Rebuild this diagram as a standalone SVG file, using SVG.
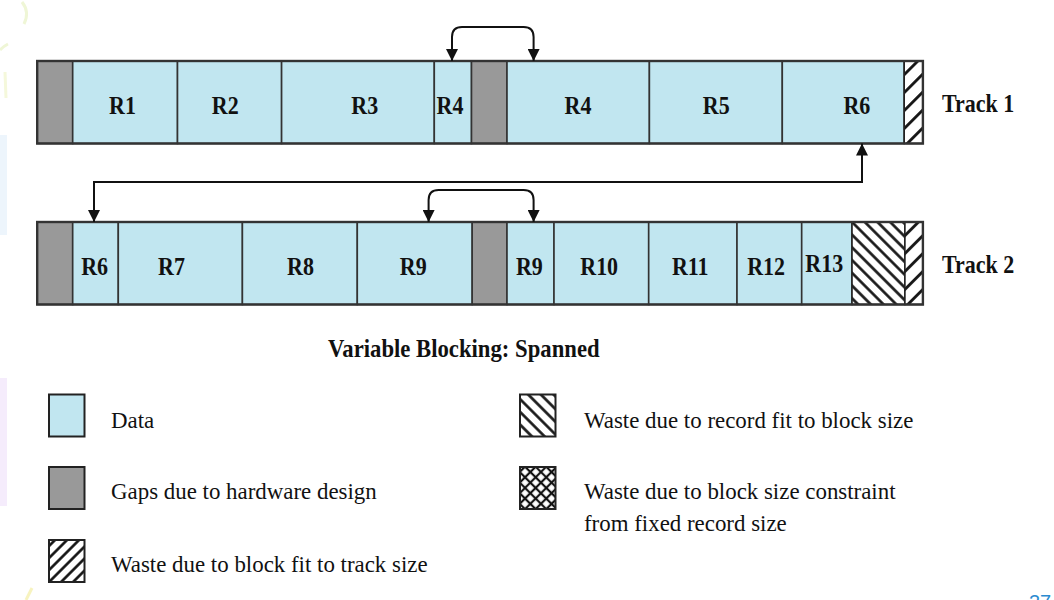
<svg xmlns="http://www.w3.org/2000/svg" width="1054" height="600" viewBox="0 0 1054 600">
<style>
.data{fill:#c1e6f0;stroke:#333;stroke-width:1.6}
.gap{fill:#999;stroke:#333;stroke-width:1.6}
.hfwd{fill:url(#pFwdT);stroke:#222;stroke-width:1.6}
.hback{fill:url(#pBack);stroke:#222;stroke-width:1.6}
.outer{fill:none;stroke:#333;stroke-width:2.4}
.lbl{font-family:"Liberation Serif","Times New Roman",serif;font-weight:bold;font-size:22px;text-anchor:middle;fill:#111}
.trk{font-family:"Liberation Serif","Times New Roman",serif;font-weight:bold;font-size:22px;fill:#111}
.ttl{font-family:"Liberation Serif","Times New Roman",serif;font-weight:bold;font-size:22.7px;fill:#111}
.leg{font-family:"Liberation Serif","Times New Roman",serif;font-size:22.9px;fill:#111}
.lbox{stroke:#222;stroke-width:2}
.conn{fill:none;stroke:#111;stroke-width:2}
</style>
<defs>
<pattern id="pFwdT" patternUnits="userSpaceOnUse" width="12.7" height="12.7" patternTransform="rotate(45)">
<rect width="12.7" height="12.7" fill="#fff"/><line x1="6.35" y1="0" x2="6.35" y2="12.7" stroke="#111" stroke-width="2.8"/></pattern>
<pattern id="pFwdL" patternUnits="userSpaceOnUse" width="8.5" height="8.5" patternTransform="rotate(45)">
<rect width="8.5" height="8.5" fill="#fff"/><line x1="4.25" y1="0" x2="4.25" y2="8.5" stroke="#111" stroke-width="2.6"/></pattern>
<pattern id="pBack" patternUnits="userSpaceOnUse" width="9" height="9" patternTransform="rotate(-45)">
<rect width="9" height="9" fill="#fff"/><line x1="4.5" y1="0" x2="4.5" y2="9" stroke="#111" stroke-width="2.6"/></pattern>
<pattern id="pCross" patternUnits="userSpaceOnUse" width="7.5" height="7.5" patternTransform="rotate(45)">
<rect width="7.5" height="7.5" fill="#fff"/><line x1="3.75" y1="0" x2="3.75" y2="7.5" stroke="#111" stroke-width="2.2"/><line x1="0" y1="3.75" x2="7.5" y2="3.75" stroke="#111" stroke-width="2.2"/></pattern>
<marker id="ah" viewBox="0 0 12 12" refX="12" refY="6" markerWidth="12" markerHeight="12" markerUnits="userSpaceOnUse" orient="auto-start-reverse"><path d="M0,0 L12,6 L0,12 z" fill="#111"/></marker>
</defs>
<rect width="1054" height="600" fill="#fff"/>
<g id="background" opacity="0.9">
<path d="M22,2 Q30,12 24,24" fill="none" stroke="#eef6d2" stroke-width="3"/>
<path d="M0,50 Q4,46 8,44" fill="none" stroke="#eef6d2" stroke-width="3"/>
<path d="M5,72 L6,98" fill="none" stroke="#f4f8d8" stroke-width="3"/>
<rect x="0" y="135" width="7" height="100" fill="#ecf5fc"/>
<rect x="0" y="378" width="7" height="128" fill="#f4eafc"/>
<path d="M26,600 L32,588" fill="none" stroke="#f6f2b8" stroke-width="3"/>
</g>
<g id="track1">
<rect class="gap" x="37.2" y="61" width="35.5" height="82.5"/>
<g id="t1-r1"><rect class="data" x="72.7" y="61" width="104.8" height="82.5"/><text class="lbl" x="122.5" y="114" transform="matrix(1 0 0 1.1 0 -11.4)">R1</text></g>
<g id="t1-r2"><rect class="data" x="177.5" y="61" width="104.1" height="82.5"/><text class="lbl" x="225.3" y="114" transform="matrix(1 0 0 1.1 0 -11.4)">R2</text></g>
<g id="t1-r3"><rect class="data" x="281.6" y="61" width="152.7" height="82.5"/><text class="lbl" x="364.7" y="114" transform="matrix(1 0 0 1.1 0 -11.4)">R3</text></g>
<g id="t1-r4a"><rect class="data" x="434.3" y="61" width="37.2" height="82.5"/><text class="lbl" x="450" y="114" transform="matrix(1 0 0 1.1 0 -11.4)">R4</text></g>
<rect class="gap" x="471.5" y="61" width="35.5" height="82.5"/>
<g id="t1-r4b"><rect class="data" x="507" y="61" width="142.4" height="82.5"/><text class="lbl" x="578" y="114" transform="matrix(1 0 0 1.1 0 -11.4)">R4</text></g>
<g id="t1-r5"><rect class="data" x="649.4" y="61" width="132.9" height="82.5"/><text class="lbl" x="716.3" y="114" transform="matrix(1 0 0 1.1 0 -11.4)">R5</text></g>
<g id="t1-r6"><rect class="data" x="782.3" y="61" width="121.9" height="82.5"/><text class="lbl" x="856.9" y="114" transform="matrix(1 0 0 1.1 0 -11.4)">R6</text></g>
<rect class="hfwd" x="904.2" y="61" width="18.7" height="82.5"/>
<rect class="outer" x="37.2" y="61" width="885.7" height="82.5"/>
<text class="trk" x="942" y="112" transform="matrix(1 0 0 1.1 0 -11.2)">Track 1</text>
</g>
<g id="track2">
<rect class="gap" x="37.2" y="222" width="35.5" height="82.5"/>
<g id="t2-r6"><rect class="data" x="72.7" y="222" width="45.6" height="82.5"/><text class="lbl" x="94.6" y="275" transform="matrix(1 0 0 1.1 0 -27.5)">R6</text></g>
<g id="t2-r7"><rect class="data" x="118.3" y="222" width="124.1" height="82.5"/><text class="lbl" x="171.5" y="275" transform="matrix(1 0 0 1.1 0 -27.5)">R7</text></g>
<g id="t2-r8"><rect class="data" x="242.4" y="222" width="114.9" height="82.5"/><text class="lbl" x="300.5" y="275" transform="matrix(1 0 0 1.1 0 -27.5)">R8</text></g>
<g id="t2-r9a"><rect class="data" x="357.3" y="222" width="114.9" height="82.5"/><text class="lbl" x="413.2" y="275" transform="matrix(1 0 0 1.1 0 -27.5)">R9</text></g>
<rect class="gap" x="472.2" y="222" width="34.8" height="82.5"/>
<g id="t2-r9b"><rect class="data" x="507" y="222" width="47" height="82.5"/><text class="lbl" x="529.4" y="275" transform="matrix(1 0 0 1.1 0 -27.5)">R9</text></g>
<g id="t2-r10"><rect class="data" x="554" y="222" width="94.7" height="82.5"/><text class="lbl" x="599.2" y="275" transform="matrix(1 0 0 1.1 0 -27.5)">R10</text></g>
<g id="t2-r11"><rect class="data" x="648.7" y="222" width="88.3" height="82.5"/><text class="lbl" x="690.3" y="275" transform="matrix(1 0 0 1.1 0 -27.5)">R11</text></g>
<g id="t2-r12"><rect class="data" x="737" y="222" width="64.7" height="82.5"/><text class="lbl" x="766.2" y="275" transform="matrix(1 0 0 1.1 0 -27.5)">R12</text></g>
<g id="t2-r13"><rect class="data" x="801.7" y="222" width="50.3" height="82.5"/><text class="lbl" x="824.2" y="272" transform="matrix(1 0 0 1.1 0 -27.2)">R13</text></g>
<rect class="hback" x="852" y="222" width="52.9" height="82.5"/>
<rect class="hfwd" x="904.9" y="222" width="18" height="82.5"/>
<rect class="outer" x="37.2" y="222" width="885.7" height="82.5"/>
<text class="trk" x="942" y="273" transform="matrix(1 0 0 1.1 0 -27.3)">Track 2</text>
</g>
<g id="connectors">
<path class="conn" d="M452,61 L452,37 Q452,27 462,27 L523.6,27 Q533.6,27 533.6,37 L533.6,61" marker-start="url(#ah)" marker-end="url(#ah)"/>
<path class="conn" d="M862,143.5 L862,182 L94,182 L94,222" marker-start="url(#ah)" marker-end="url(#ah)"/>
<path class="conn" d="M428.6,222 L428.6,200 Q428.6,190 438.6,190 L523.6,190 Q533.6,190 533.6,200 L533.6,222" marker-start="url(#ah)" marker-end="url(#ah)"/>
</g>
<g id="title"><text class="ttl" x="328" y="356.7" transform="matrix(1 0 0 1.1 0 -35.67)">Variable Blocking: Spanned</text></g>
<g id="legend">
<g id="leg-data"><rect class="lbox" x="49" y="394.5" width="35.5" height="42" fill="#c1e6f0"/><text class="leg" x="111" y="428">Data</text></g>
<g id="leg-gap"><rect class="lbox" x="49" y="467" width="35.5" height="42" fill="#999"/><text class="leg" x="111" y="499">Gaps due to hardware design</text></g>
<g id="leg-track"><rect class="lbox" x="49" y="540" width="35.5" height="42" fill="url(#pFwdL)"/><text class="leg" x="111" y="572">Waste due to block fit to track size</text></g>
<g id="leg-record"><rect class="lbox" x="520" y="394.5" width="35.5" height="42" fill="url(#pBack)"/><text class="leg" x="584" y="428">Waste due to record fit to block size</text></g>
<g id="leg-fixed"><rect class="lbox" x="520" y="467" width="35.5" height="42" fill="url(#pCross)"/><text class="leg" x="584" y="499">Waste due to block size constraint</text><text class="leg" x="584" y="531">from fixed record size</text></g>
</g>
<text x="1029" y="609" font-family="Liberation Sans, Arial, sans-serif" font-size="20" fill="#2b8bd0">37</text>
</svg>
